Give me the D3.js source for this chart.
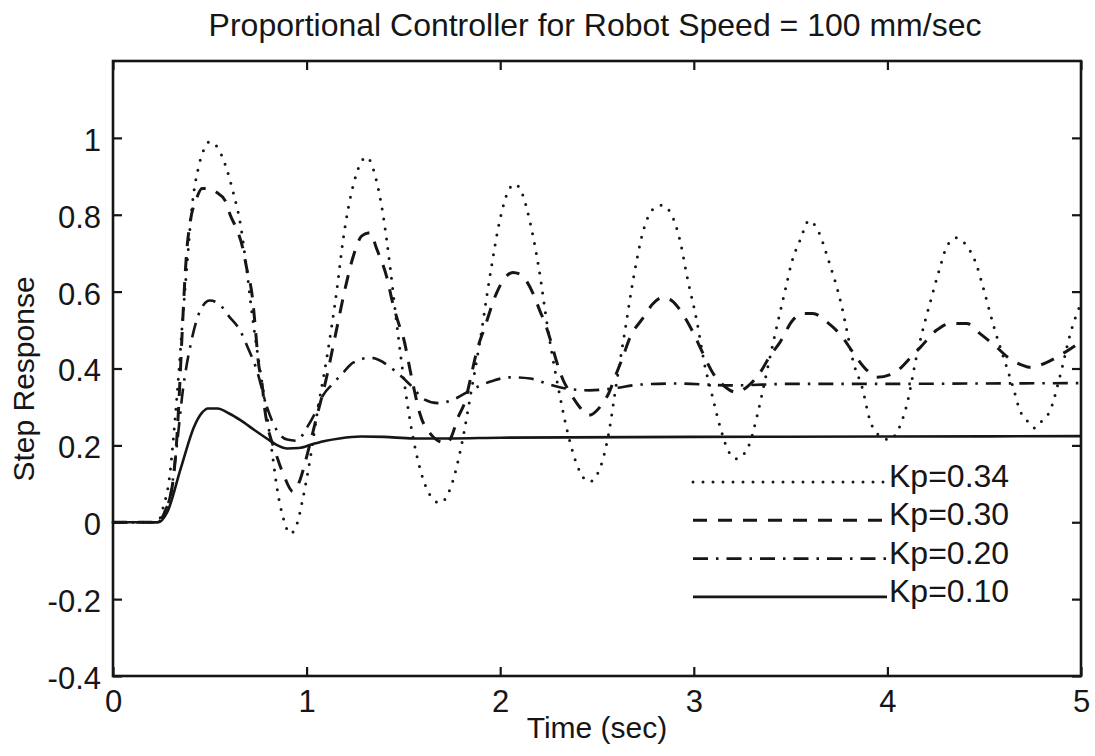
<!DOCTYPE html>
<html>
<head>
<meta charset="utf-8">
<script src="https://cdn.jsdelivr.net/npm/d3@7"></script>
<style>
  html, body { margin: 0; padding: 0; background: #ffffff; }
  svg { display: block; }
  .axis text { font-family: "Liberation Sans", Arial, Helvetica, sans-serif; font-size: 31px; fill: #161616; }
  .axis line { stroke: #161616; stroke-width: 2.2px; }
  .axis path { display: none; }
</style>
</head>
<body>
<svg id="chart" width="1095" height="756"></svg>
<script>
// Step responses of the proportional speed controller, one series per gain.
const xTicks = [0, 1, 2, 3, 4, 5];
const yTicks = [-0.4, -0.2, 0, 0.2, 0.4, 0.6, 0.8, 1];
const yTickLabels = ["-0.4", "-0.2", "0", "0.2", "0.4", "0.6", "0.8", "1"];

const gainLabels = ["Kp=0.34", "Kp=0.30", "Kp=0.20", "Kp=0.10"];

// Kp = 0.34 (dotted)
const timeKp34 = [0, 0.23, 0.26, 0.29, 0.32, 0.34, 0.36, 0.38, 0.41, 0.44, 0.47, 0.50, 0.54, 0.58, 0.62, 0.66, 0.69, 0.72, 0.76, 0.795, 0.825, 0.85, 0.88, 0.915, 0.95, 0.98, 1.02, 1.055, 1.105, 1.155, 1.19, 1.24, 1.31, 1.36, 1.395, 1.43, 1.46, 1.50, 1.55, 1.60, 1.645, 1.69, 1.74, 1.80, 1.85, 1.895, 1.95, 2.00, 2.04, 2.075, 2.11, 2.15, 2.20, 2.247, 2.30, 2.35, 2.40, 2.46, 2.515, 2.56, 2.60, 2.645, 2.69, 2.74, 2.79, 2.835, 2.88, 2.93, 2.965, 3.015, 3.06, 3.09, 3.135, 3.17, 3.22, 3.28, 3.33, 3.37, 3.42, 3.475, 3.505, 3.55, 3.595, 3.635, 3.70, 3.765, 3.79, 3.825, 3.87, 3.91, 3.96, 4.01, 4.055, 4.10, 4.15, 4.185, 4.22, 4.27, 4.305, 4.355, 4.40, 4.46, 4.495, 4.555, 4.61, 4.65, 4.685, 4.72, 4.76, 4.80, 4.84, 4.89, 4.95, 5.0];
const respKp34 = [0, 0, 0.04, 0.11, 0.265, 0.39, 0.53, 0.655, 0.83, 0.92, 0.97, 0.99, 0.975, 0.93, 0.86, 0.77, 0.66, 0.535, 0.395, 0.28, 0.17, 0.08, 0.01, -0.03, -0.005, 0.06, 0.17, 0.285, 0.43, 0.60, 0.74, 0.875, 0.95, 0.89, 0.80, 0.67, 0.54, 0.38, 0.22, 0.115, 0.065, 0.05, 0.085, 0.20, 0.34, 0.47, 0.65, 0.79, 0.86, 0.88, 0.86, 0.79, 0.66, 0.50, 0.35, 0.23, 0.145, 0.105, 0.14, 0.23, 0.36, 0.50, 0.64, 0.76, 0.815, 0.825, 0.805, 0.73, 0.64, 0.525, 0.40, 0.34, 0.25, 0.195, 0.165, 0.195, 0.283, 0.375, 0.49, 0.61, 0.675, 0.735, 0.785, 0.765, 0.675, 0.56, 0.50, 0.415, 0.35, 0.265, 0.225, 0.215, 0.24, 0.305, 0.43, 0.505, 0.57, 0.66, 0.715, 0.74, 0.725, 0.67, 0.61, 0.50, 0.413, 0.35, 0.29, 0.265, 0.245, 0.265, 0.29, 0.377, 0.50, 0.57];

// Kp = 0.30 (dashed)
const timeKp30 = [0, 0.23, 0.27, 0.305, 0.33, 0.346, 0.356, 0.38, 0.40, 0.43, 0.46, 0.50, 0.53, 0.58, 0.605, 0.645, 0.67, 0.69, 0.72, 0.735, 0.75, 0.77, 0.785, 0.80, 0.836, 0.88, 0.93, 0.966, 1.0, 1.05, 1.10, 1.15, 1.20, 1.24, 1.285, 1.33, 1.36, 1.415, 1.445, 1.48, 1.50, 1.535, 1.56, 1.585, 1.64, 1.67, 1.725, 1.75, 1.78, 1.82, 1.845, 1.88, 1.92, 1.98, 2.01, 2.065, 2.10, 2.17, 2.205, 2.23, 2.265, 2.29, 2.325, 2.36, 2.41, 2.455, 2.53, 2.56, 2.60, 2.63, 2.67, 2.74, 2.79, 2.84, 2.885, 2.945, 2.99, 3.04, 3.07, 3.10, 3.145, 3.22, 3.27, 3.35, 3.39, 3.445, 3.51, 3.565, 3.615, 3.69, 3.77, 3.815, 3.895, 3.945, 4.03, 4.13, 4.17, 4.255, 4.325, 4.41, 4.48, 4.565, 4.62, 4.70, 4.735, 4.84, 4.91, 5.0];
const respKp30 = [0, 0, 0.03, 0.09, 0.22, 0.37, 0.48, 0.70, 0.785, 0.84, 0.868, 0.868, 0.86, 0.836, 0.80, 0.755, 0.714, 0.662, 0.585, 0.507, 0.42, 0.36, 0.29, 0.247, 0.187, 0.125, 0.08, 0.11, 0.17, 0.27, 0.37, 0.49, 0.61, 0.69, 0.745, 0.753, 0.714, 0.636, 0.57, 0.51, 0.48, 0.395, 0.335, 0.283, 0.23, 0.215, 0.205, 0.225, 0.27, 0.317, 0.37, 0.447, 0.507, 0.595, 0.625, 0.65, 0.646, 0.595, 0.55, 0.52, 0.465, 0.42, 0.37, 0.338, 0.30, 0.278, 0.31, 0.335, 0.387, 0.425, 0.48, 0.533, 0.569, 0.585, 0.577, 0.54, 0.50, 0.447, 0.415, 0.387, 0.36, 0.338, 0.35, 0.395, 0.43, 0.468, 0.525, 0.543, 0.543, 0.52, 0.48, 0.447, 0.395, 0.377, 0.387, 0.434, 0.455, 0.50, 0.517, 0.517, 0.49, 0.455, 0.43, 0.408, 0.403, 0.42, 0.44, 0.47];

// Kp = 0.20 (dash-dot)
const timeKp20 = [0, 0.23, 0.27, 0.30, 0.33, 0.36, 0.40, 0.45, 0.50, 0.55, 0.60, 0.655, 0.70, 0.74, 0.795, 0.845, 0.90, 0.95, 1.0, 1.05, 1.085, 1.135, 1.19, 1.24, 1.33, 1.415, 1.465, 1.52, 1.55, 1.60, 1.68, 1.77, 1.845, 1.95, 2.05, 2.155, 2.245, 2.34, 2.46, 2.58, 2.72, 2.91, 3.2, 3.5, 4.0, 4.5, 5.0];
const respKp20 = [0, 0, 0.03, 0.08, 0.20, 0.34, 0.46, 0.55, 0.577, 0.567, 0.535, 0.50, 0.45, 0.40, 0.30, 0.24, 0.215, 0.212, 0.245, 0.29, 0.33, 0.36, 0.39, 0.415, 0.428, 0.41, 0.39, 0.365, 0.35, 0.322, 0.31, 0.322, 0.343, 0.366, 0.377, 0.374, 0.36, 0.348, 0.343, 0.348, 0.358, 0.361, 0.356, 0.36, 0.36, 0.361, 0.362];

// Kp = 0.10 (solid)
const timeKp10 = [0, 0.235, 0.28, 0.35, 0.42, 0.46, 0.49, 0.54, 0.60, 0.66, 0.73, 0.80, 0.85, 0.90, 0.96, 1.03, 1.10, 1.17, 1.28, 1.40, 1.55, 1.75, 2.0, 3.0, 4.0, 5.0];
const respKp10 = [0, 0, 0.026, 0.14, 0.25, 0.285, 0.296, 0.296, 0.283, 0.265, 0.24, 0.216, 0.20, 0.192, 0.193, 0.203, 0.212, 0.218, 0.223, 0.222, 0.218, 0.218, 0.22, 0.222, 0.223, 0.224];

const series = [
  { label: gainLabels[0], t: timeKp34, v: respKp34, dash: "0 10", cap: "round", width: 3 },
  { label: gainLabels[1], t: timeKp30, v: respKp30, dash: "14 11", cap: "butt", width: 3 },
  { label: gainLabels[2], t: timeKp20, v: respKp20, dash: "15 8 2.5 8", cap: "butt", width: 2.6 },
  { label: gainLabels[3], t: timeKp10, v: respKp10, dash: null, cap: "butt", width: 2.6 }
];

const svg = d3.select("#chart");
const ink = "#161616";
const font = '"Liberation Sans", Arial, Helvetica, sans-serif';

const plot = { left: 113, right: 1081, top: 61, bottom: 676 };

const x = d3.scaleLinear().domain([0, 5]).range([plot.left, plot.right]);
const y = d3.scaleLinear().domain([-0.4, 1.2]).range([plot.bottom, plot.top]);

// axes with inward ticks on all four sides
svg.append("g").attr("class", "axis")
  .attr("transform", `translate(0,${plot.bottom})`)
  .call(d3.axisBottom(x).tickValues(xTicks).tickFormat(d3.format("d")).tickSize(-9).tickPadding(14));

svg.append("g").attr("class", "axis")
  .attr("transform", `translate(${plot.left},0)`)
  .call(d3.axisLeft(y).tickValues(yTicks).tickFormat((d, i) => yTickLabels[i]).tickSize(-9).tickPadding(12))
  .selectAll("text").attr("dy", "0.4em");

svg.append("g").attr("class", "axis")
  .attr("transform", `translate(0,${plot.top})`)
  .call(d3.axisTop(x).tickValues(xTicks).tickFormat("").tickSize(-9));

svg.append("g").attr("class", "axis")
  .attr("transform", `translate(${plot.right},0)`)
  .call(d3.axisRight(y).tickValues(yTicks).tickFormat("").tickSize(-9));

// plot frame
svg.append("rect")
  .attr("x", plot.left).attr("y", plot.top)
  .attr("width", plot.right - plot.left).attr("height", plot.bottom - plot.top)
  .attr("fill", "none").attr("stroke", ink).attr("stroke-width", 2.6);

// response curves
const line = d3.line().curve(d3.curveMonotoneX);
series.forEach(s => {
  const pts = s.t.map((t, i) => [x(t), y(s.v[i])]);
  const p = svg.append("path")
    .attr("d", line(pts))
    .attr("fill", "none")
    .attr("stroke", ink)
    .attr("stroke-width", s.width)
    .attr("stroke-linecap", s.cap)
    .attr("stroke-linejoin", "round");
  if (s.dash) p.attr("stroke-dasharray", s.dash);
});

// legend: line sample followed by label
const legend = svg.append("g");
series.forEach((s, i) => {
  const ly = 482 + i * 38.3;
  const l = legend.append("line")
    .attr("x1", 693).attr("x2", 887).attr("y1", ly).attr("y2", ly)
    .attr("stroke", ink).attr("stroke-width", s.width)
    .attr("stroke-linecap", s.cap);
  if (s.dash) l.attr("stroke-dasharray", s.dash);
  legend.append("text")
    .attr("x", 889).attr("y", ly + 5)
    .attr("font-family", font).attr("font-size", 32).attr("fill", ink)
    .text(s.label);
});

// title and axis labels
svg.append("text")
  .attr("x", 595).attr("y", 36)
  .attr("text-anchor", "middle")
  .attr("font-family", font).attr("font-size", 32).attr("fill", ink)
  .text("Proportional Controller for Robot Speed = 100 mm/sec");

svg.append("text")
  .attr("x", 597).attr("y", 738)
  .attr("text-anchor", "middle")
  .attr("font-family", font).attr("font-size", 30).attr("fill", ink)
  .text("Time (sec)");

svg.append("text")
  .attr("transform", "translate(34,379) rotate(-90)")
  .attr("text-anchor", "middle")
  .attr("font-family", font).attr("font-size", 30).attr("fill", ink)
  .text("Step Response");
</script>
</body>
</html>
